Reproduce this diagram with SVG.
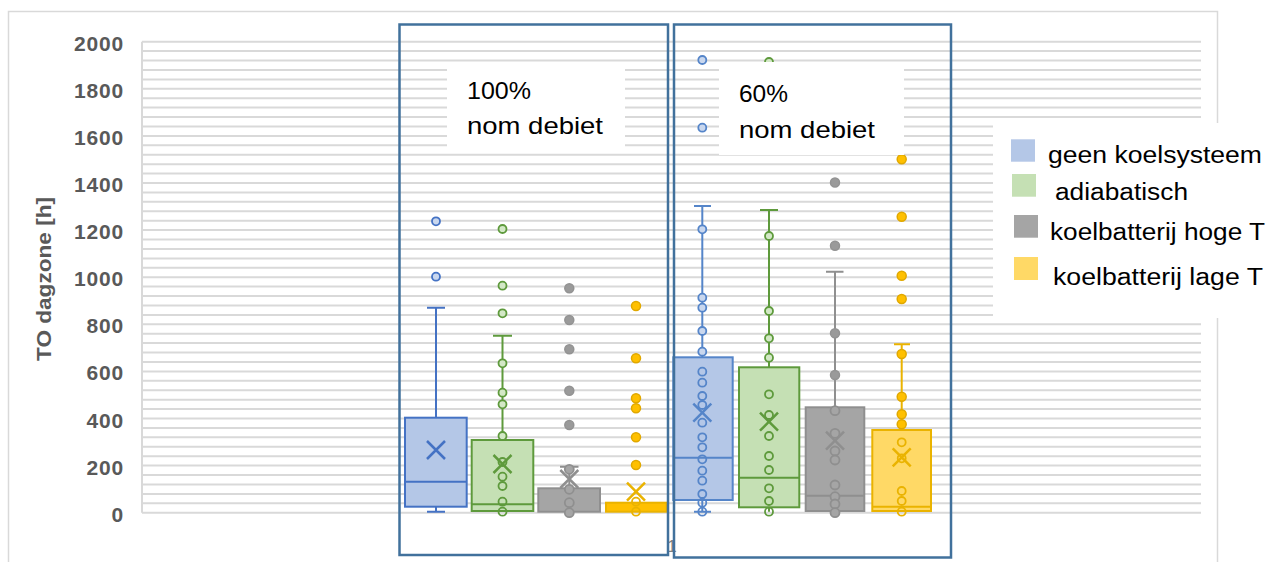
<svg xmlns="http://www.w3.org/2000/svg" width="1281" height="562" viewBox="0 0 1281 562">
  <style>
    .grid { stroke: #d9d9d9; stroke-width: 2; fill: none; }
    .ylab { font-family: "Liberation Sans", Arial, sans-serif; font-weight: bold; font-size: 21px; fill: #595959; text-anchor: end; letter-spacing: 0.8px; }
    .ytitle { font-family: "Liberation Sans", Arial, sans-serif; font-weight: bold; font-size: 21px; fill: #595959; text-anchor: middle; }
    .note { font-family: "Liberation Sans", Arial, sans-serif; font-size: 24px; fill: #000; }
    .leg { font-family: "Liberation Sans", Arial, sans-serif; font-size: 23px; fill: #000; }
    .frame { fill: none; stroke: #41719c; stroke-width: 2.5; }
    .wh { fill: none; stroke-width: 2; }
    .xm { fill: none; stroke-width: 2.5; }
    .blue { stroke: #4472c4; }
    .blue2 { stroke: #5585c9; }
    .green { stroke: #5e9a3c; }
    .gray { stroke: #8f8f8f; }
    .yellow { stroke: #eab300; }
    .bbox { fill: #b4c7e7; stroke-width: 2; }
    .gbox { fill: #c5e0b4; stroke-width: 2; }
    .kbox { fill: #a5a5a5; stroke-width: 2; }
    .ybox { fill: #ffd966; stroke-width: 2; }
    .pb { fill: #c9d7ee; stroke-width: 1.8; }
    .pg { fill: #d3e8c6; stroke-width: 1.8; }
    .pk { fill: #a5a5a5; stroke-width: 1.8; }
    .pkf { fill: #9a9a9a; stroke: #939393; stroke-width: 1.5; }
    .py { fill: #ffd966; stroke-width: 1.8; }
    .pyf { fill: #ffc000; stroke: #e0a800; stroke-width: 1.5; }
  </style>

  <rect x="0" y="0" width="1281" height="562" fill="#ffffff"/>
  <!-- chart area border -->
  <rect x="8.5" y="11.5" width="1209" height="560" fill="none" stroke="#d9d9d9" stroke-width="1.5"/>

  <!-- horizontal gridlines, every 40 h -->
  <g id="gridlines">
    <path class="grid" d="M142 512.7H1201M142 503.3H1201M142 493.9H1201M142 484.4H1201M142 475H1201M142 465.6H1201M142 456.2H1201M142 446.8H1201M142 437.3H1201M142 427.9H1201M142 418.5H1201M142 409.1H1201M142 399.7H1201M142 390.2H1201M142 380.8H1201M142 371.4H1201M142 362H1201M142 352.6H1201M142 343.1H1201M142 333.7H1201M142 324.3H1201M142 314.9H1201M142 305.5H1201M142 296H1201M142 286.6H1201M142 277.2H1201M142 267.8H1201M142 258.4H1201M142 248.9H1201M142 239.5H1201M142 230.1H1201M142 220.7H1201M142 211.3H1201M142 201.8H1201M142 192.4H1201M142 183H1201M142 173.6H1201M142 164.2H1201M142 154.7H1201M142 145.3H1201M142 135.9H1201M142 126.5H1201M142 117.1H1201M142 107.6H1201M142 98.2H1201M142 88.8H1201M142 79.4H1201M142 70H1201M142 60.5H1201M142 51.1H1201M142 41.7H1201"/>
    <path class="grid" d="M142 41.7V512.7"/>
  </g>

  <!-- value axis -->
  <g id="y-axis">
    <text class="ylab" x="124" y="521.7">0</text>
    <text class="ylab" x="124" y="474.6">200</text>
    <text class="ylab" x="124" y="427.5">400</text>
    <text class="ylab" x="124" y="380.4">600</text>
    <text class="ylab" x="124" y="333.3">800</text>
    <text class="ylab" x="124" y="286.2">1000</text>
    <text class="ylab" x="124" y="239.1">1200</text>
    <text class="ylab" x="124" y="192">1400</text>
    <text class="ylab" x="124" y="144.9">1600</text>
    <text class="ylab" x="124" y="97.8">1800</text>
    <text class="ylab" x="124" y="50.7">2000</text>
    <text class="ytitle" transform="translate(50.5,279) rotate(-90)" textLength="164" lengthAdjust="spacingAndGlyphs">TO dagzone [h]</text>
  </g>

  <!-- category label -->
  <text x="672" y="552" font-family="'Liberation Sans', Arial, sans-serif" font-size="17" fill="#808080" text-anchor="middle">1</text>

  <!-- 100 % flow: no cooling -->
  <g id="box-100-geen">
    <path class="wh blue" d="M436 307.7V417.7M427 307.7H445M436 506.7V511.7M427 511.7H445"/>
    <rect class="bbox blue" x="405" y="417.7" width="61.7" height="89"/>
    <path class="wh blue" d="M405 481.7H466.7"/>
    <path class="xm blue" d="M427 441L445 459M445 441L427 459"/>
    <circle class="pb blue" cx="436" cy="221.3" r="4"/>
    <circle class="pb blue" cx="436" cy="276.7" r="4"/>
  </g>

  <!-- 100 % flow: adiabatic -->
  <g id="box-100-adiabatisch">
    <path class="wh green" d="M502.5 335.7V440M493 335.7H512"/>
    <rect class="gbox green" x="471.7" y="440" width="61.6" height="71"/>
    <path class="wh green" d="M471.7 504.3H533.3"/>
    <path class="xm green" d="M493.5 455L511.5 473M511.5 455L493.5 473"/>
    <g class="pg green">
      <circle cx="502.5" cy="229" r="4"/>
      <circle cx="502.5" cy="285.7" r="4"/>
      <circle cx="502.5" cy="313.3" r="4"/>
      <circle cx="502.5" cy="363.3" r="4"/>
      <circle cx="502.5" cy="392.7" r="4"/>
      <circle cx="502.5" cy="404.3" r="4"/>
      <circle cx="502.5" cy="436" r="4"/>
      <circle cx="502.5" cy="462" r="4" fill="none"/>
      <circle cx="502.5" cy="476.7" r="4" fill="none"/>
      <circle cx="502.5" cy="486" r="4" fill="none"/>
      <circle cx="502.5" cy="501.7" r="4" fill="none"/>
      <circle cx="502.5" cy="511.7" r="4" fill="none"/>
    </g>
  </g>

  <!-- 100 % flow: cooling coil high T -->
  <g id="box-100-hoge-T">
    <path class="wh gray" d="M569.3 466.7V488.3M560 466.7H578.5"/>
    <rect class="kbox gray" x="538.3" y="488.3" width="61.7" height="23.4"/>
    <path class="xm gray" d="M560.3 470L578.3 488M578.3 470L560.3 488"/>
    <g class="pkf">
      <circle cx="569.3" cy="288.3" r="4.5"/>
      <circle cx="569.3" cy="320" r="4.5"/>
      <circle cx="569.3" cy="349.3" r="4.5"/>
      <circle cx="569.3" cy="390.7" r="4.5"/>
      <circle cx="569.3" cy="425" r="4.5"/>
    </g>
    <g class="pk gray">
      <circle cx="569.3" cy="469.3" r="4.5"/>
      <circle cx="569.3" cy="489.3" r="4.5"/>
      <circle cx="569.3" cy="502.7" r="4.5"/>
      <circle cx="569.3" cy="512.7" r="4.5"/>
    </g>
  </g>

  <!-- 100 % flow: cooling coil low T -->
  <g id="box-100-lage-T">
    <rect class="ybox yellow" x="606" y="502.7" width="60.7" height="9" fill="#ffc000" style="fill:#ffc000"/>
    <path class="xm yellow" d="M627 482.7L645 500.7M645 482.7L627 500.7"/>
    <g class="pyf">
      <circle cx="636" cy="306" r="4.5"/>
      <circle cx="636" cy="358.3" r="4.5"/>
      <circle cx="636" cy="398.3" r="4.5"/>
      <circle cx="636" cy="408.3" r="4.5"/>
      <circle cx="636" cy="437.3" r="4.5"/>
      <circle cx="636" cy="465" r="4.5"/>
    </g>
    <g class="py yellow" style="fill:none">
      <circle cx="636" cy="501.7" r="4"/>
      <circle cx="636" cy="511.7" r="4"/>
    </g>
  </g>

  <!-- 60 % flow: no cooling -->
  <g id="box-60-geen">
    <path class="wh blue2" d="M702.3 206V357.3M694 206H711M702.3 500V511.7M694 511.7H711"/>
    <rect class="bbox blue2" x="673.3" y="357.3" width="59.4" height="142.7"/>
    <path class="wh blue2" d="M673.3 457.7H732.7"/>
    <path class="xm blue2" d="M693.3 403.7L711.3 421.7M711.3 403.7L693.3 421.7"/>
    <g class="pb blue2">
      <circle cx="702.3" cy="60" r="4"/>
      <circle cx="702.3" cy="127.7" r="4"/>
      <circle cx="702.3" cy="229.3" r="4"/>
      <circle cx="702.3" cy="297.7" r="4"/>
      <circle cx="702.3" cy="307.7" r="4"/>
      <circle cx="702.3" cy="331" r="4"/>
      <circle cx="702.3" cy="351.7" r="4"/>
      <circle cx="702.3" cy="371.7" r="4" fill="none"/>
      <circle cx="702.3" cy="382.7" r="4" fill="none"/>
      <circle cx="702.3" cy="396" r="4" fill="none"/>
      <circle cx="702.3" cy="405" r="4" fill="none"/>
      <circle cx="702.3" cy="422.7" r="4" fill="none"/>
      <circle cx="702.3" cy="437.3" r="4" fill="none"/>
      <circle cx="702.3" cy="447.3" r="4" fill="none"/>
      <circle cx="702.3" cy="459.3" r="4" fill="none"/>
      <circle cx="702.3" cy="470.7" r="4" fill="none"/>
      <circle cx="702.3" cy="480.7" r="4" fill="none"/>
      <circle cx="702.3" cy="494" r="4" fill="none"/>
      <circle cx="702.3" cy="502.7" r="4" fill="none"/>
      <circle cx="702.3" cy="511.7" r="4" fill="none"/>
    </g>
  </g>

  <!-- 60 % flow: adiabatic -->
  <g id="box-60-adiabatisch">
    <path class="wh green" d="M769 210V367.3M760 210H778M769 507.3V511.7"/>
    <rect class="gbox green" x="739" y="367.3" width="60.3" height="140"/>
    <path class="wh green" d="M739 477.7H799.3"/>
    <path class="xm green" d="M760 412.7L778 430.7M778 412.7L760 430.7"/>
    <g class="pg green">
      <circle cx="769" cy="62" r="4"/>
      <circle cx="769" cy="236" r="4"/>
      <circle cx="769" cy="311" r="4"/>
      <circle cx="769" cy="338.3" r="4"/>
      <circle cx="769" cy="357.7" r="4"/>
      <circle cx="769" cy="394.3" r="4" fill="none"/>
      <circle cx="769" cy="415" r="4" fill="none"/>
      <circle cx="769" cy="436" r="4" fill="none"/>
      <circle cx="769" cy="456" r="4" fill="none"/>
      <circle cx="769" cy="470" r="4" fill="none"/>
      <circle cx="769" cy="488.3" r="4" fill="none"/>
      <circle cx="769" cy="501" r="4" fill="none"/>
      <circle cx="769" cy="511.7" r="4" fill="none"/>
    </g>
  </g>

  <!-- 60 % flow: cooling coil high T -->
  <g id="box-60-hoge-T">
    <path class="wh gray" d="M835 271.7V407.3M826 271.7H843.5"/>
    <rect class="kbox gray" x="805.7" y="407.3" width="58.6" height="103.7"/>
    <path class="wh gray" d="M805.7 495.7H864.3"/>
    <path class="xm gray" d="M826 431.7L844 449.7M844 431.7L826 449.7"/>
    <g class="pkf">
      <circle cx="835" cy="182.5" r="4.5"/>
      <circle cx="835" cy="245.7" r="4.5"/>
      <circle cx="835" cy="333.3" r="4.5"/>
      <circle cx="835" cy="375" r="4.5"/>
    </g>
    <g class="pk gray">
      <circle cx="835" cy="410.7" r="4.5"/>
      <circle cx="835" cy="433.3" r="4.5"/>
      <circle cx="835" cy="451" r="4.5"/>
      <circle cx="835" cy="460" r="4.5"/>
      <circle cx="835" cy="485" r="4.5"/>
      <circle cx="835" cy="496.7" r="4.5"/>
      <circle cx="835" cy="504" r="4.5"/>
      <circle cx="835" cy="512.7" r="4.5"/>
    </g>
  </g>

  <!-- 60 % flow: cooling coil low T -->
  <g id="box-60-lage-T">
    <path class="wh yellow" d="M901.7 344.3V430M894 344.3H910"/>
    <rect class="ybox yellow" x="872.3" y="430" width="58.7" height="81"/>
    <path class="wh yellow" d="M872.3 506.7H931"/>
    <path class="xm yellow" d="M892.7 448.3L910.7 466.3M910.7 448.3L892.7 466.3"/>
    <g class="pyf">
      <circle cx="901.7" cy="159.3" r="4.5"/>
      <circle cx="901.7" cy="216.7" r="4.5"/>
      <circle cx="901.7" cy="275.7" r="4.5"/>
      <circle cx="901.7" cy="299" r="4.5"/>
      <circle cx="901.7" cy="354" r="4.5"/>
      <circle cx="901.7" cy="396.7" r="4.5"/>
      <circle cx="901.7" cy="414.3" r="4.5"/>
      <circle cx="901.7" cy="424.3" r="4.5"/>
    </g>
    <g class="py yellow" style="fill:none">
      <circle cx="901.7" cy="442.3" r="4"/>
      <circle cx="901.7" cy="458.3" r="4"/>
      <circle cx="901.7" cy="491" r="4"/>
      <circle cx="901.7" cy="501" r="4"/>
      <circle cx="901.7" cy="511.7" r="4"/>
    </g>
  </g>

  <!-- flow annotations -->
  <g id="label-100">
    <rect x="447" y="63" width="178" height="84" fill="#ffffff"/>
    <text class="note" x="467" y="99" textLength="64" lengthAdjust="spacingAndGlyphs">100%</text>
    <text class="note" x="467" y="134" textLength="136" lengthAdjust="spacingAndGlyphs">nom debiet</text>
  </g>
  <g id="label-60">
    <rect x="719" y="62" width="185" height="93" fill="#ffffff"/>
    <text class="note" x="739" y="102" textLength="49" lengthAdjust="spacingAndGlyphs">60%</text>
    <text class="note" x="739" y="138" textLength="136" lengthAdjust="spacingAndGlyphs">nom debiet</text>
  </g>

  <!-- group frames -->
  <rect id="frame-100" class="frame" x="399.5" y="24.5" width="268.5" height="530.5"/>
  <rect id="frame-60" class="frame" x="674" y="24.5" width="277" height="533"/>

  <!-- legend -->
  <g id="legend">
    <rect x="993" y="123" width="288" height="195" fill="#ffffff"/>
    <rect x="1011" y="139.3" width="24" height="22.4" fill="#b4c7e7"/>
    <rect x="1012" y="174" width="24" height="22.7" fill="#c5e0b4"/>
    <rect x="1014" y="215" width="24" height="22.7" fill="#a5a5a5"/>
    <rect x="1014" y="257" width="24" height="23" fill="#ffd966"/>
    <text class="leg" x="1048" y="163.3" textLength="214" lengthAdjust="spacingAndGlyphs">geen koelsysteem</text>
    <text class="leg" x="1055" y="200" textLength="133" lengthAdjust="spacingAndGlyphs">adiabatisch</text>
    <text class="leg" x="1050" y="240" textLength="215" lengthAdjust="spacingAndGlyphs">koelbatterij hoge T</text>
    <text class="leg" x="1053" y="285" textLength="210" lengthAdjust="spacingAndGlyphs">koelbatterij lage T</text>
  </g>
</svg>
